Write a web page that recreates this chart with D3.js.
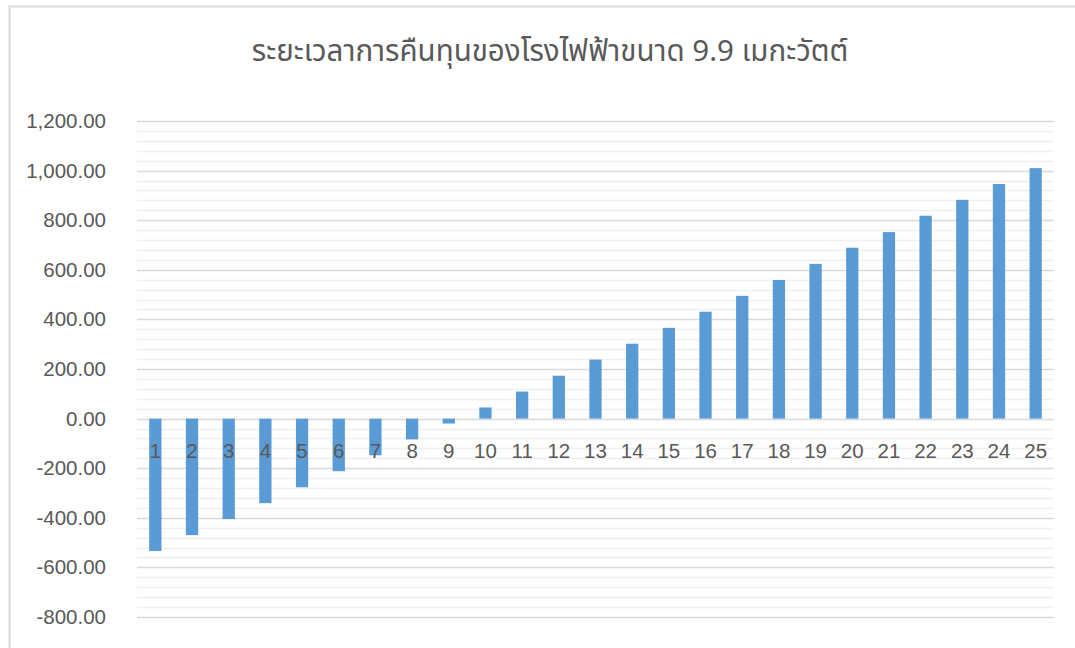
<!DOCTYPE html>
<html>
<head>
<meta charset="utf-8">
<script src="https://cdn.jsdelivr.net/npm/d3@7"></script>
<style>
  html, body { margin: 0; padding: 0; background: #fff; }
  svg { display: block; }
</style>
</head>
<body>
<svg id="chart" width="1075" height="648"></svg>
<script>
const title = "ระยะเวลาการคืนทุนของโรงไฟฟ้าขนาด 9.9 เมกะวัตต์";
const categories = ["1","2","3","4","5","6","7","8","9","10","11","12","13","14","15","16","17","18","19","20","21","22","23","24","25"];
const values = [-534, -470, -405, -341, -277, -212, -148, -84, -20, 45, 109, 173, 238, 302, 366, 431, 495, 559, 624, 689, 752, 818, 882, 946, 1010];
const yTicks = [-800, -600, -400, -200, 0, 200, 400, 600, 800, 1000, 1200];
const yMinorStep = 40;

const svg = d3.select("#chart");
const W = 1075, H = 648;
const plot = { left: 137, right: 1054, top: 121, bottom: 617 };
const textColor = "#595959";
const font = "'Liberation Sans', Arial, sans-serif";

// chart border
svg.append("rect")
  .attr("x", 9.5).attr("y", 6.5)
  .attr("width", W + 20).attr("height", H + 20)
  .attr("fill", "#fff").attr("stroke", "#d9d9d9").attr("stroke-width", 2);

const y = d3.scaleLinear().domain([-800, 1200]).range([plot.bottom, plot.top]);
const x = d3.scaleBand().domain(categories).range([plot.left, plot.right])
  .paddingInner(0.665).paddingOuter(0.3325);

// minor gridlines
const minor = d3.range(-800, 1200 + 1, yMinorStep).filter(v => v % 200 !== 0);
svg.append("g").selectAll("line").data(minor).join("line")
  .attr("x1", plot.left).attr("x2", plot.right)
  .attr("y1", d => Math.round(y(d)) + 0.5).attr("y2", d => Math.round(y(d)) + 0.5)
  .attr("stroke", "#f0f0f0").attr("stroke-width", 1.5);

// major gridlines
svg.append("g").selectAll("line").data(yTicks).join("line")
  .attr("x1", plot.left).attr("x2", plot.right)
  .attr("y1", d => Math.round(y(d)) + 0.5).attr("y2", d => Math.round(y(d)) + 0.5)
  .attr("stroke", "#d9d9d9").attr("stroke-width", 1.5);

// y axis labels
const yAxis = d3.axisLeft(y).tickValues(yTicks).tickSize(0).tickPadding(0)
  .tickFormat(d => d3.format(",.2f")(d).replace("−", "-"));
const gy = svg.append("g").attr("transform", `translate(106,0)`).call(yAxis);
gy.select(".domain").remove();
gy.selectAll("text").attr("fill", textColor).attr("font-family", font).attr("font-size", 20.5);

// bars
svg.append("g").selectAll("rect").data(values).join("rect")
  .attr("x", (d, i) => x(categories[i]))
  .attr("width", x.bandwidth())
  .attr("y", d => y(Math.max(0, d)))
  .attr("height", d => Math.abs(y(d) - y(0)))
  .attr("fill", "#5B9BD5");

// category axis labels (next to axis at zero)
const xAxis = d3.axisBottom(x).tickSize(0).tickPadding(0);
const gx = svg.append("g").attr("transform", `translate(0,${y(0) + 39})`).call(xAxis);
gx.select(".domain").remove();
gx.selectAll("text").attr("dy", 0).attr("fill", textColor).attr("font-family", font).attr("font-size", 20.5);

// title
svg.append("text")
  .attr("x", 550).attr("y", 61)
  .attr("text-anchor", "middle")
  .attr("fill", textColor)
  .attr("font-family", "'Noto Sans Thai', 'Noto Sans', 'DejaVu Sans', sans-serif")
  .attr("font-size", 29.5)
  .text(title);
</script>
</body>
</html>
